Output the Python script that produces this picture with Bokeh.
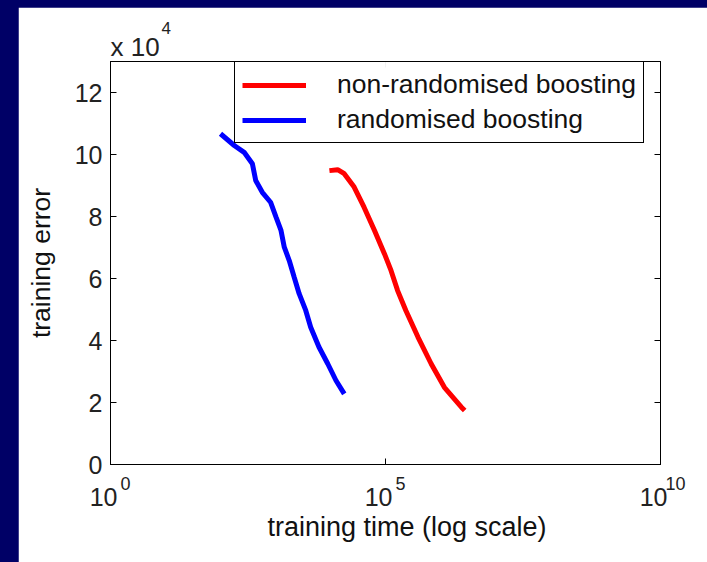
from bokeh.plotting import figure
from bokeh.models import (FixedTicker, LinearAxis, LogAxis, Legend, LegendItem,
                          Range1d, CustomJSTickFormatter, Title)
from bokeh.layouts import column
from bokeh.embed import file_html
from bokeh.resources import INLINE

# ---- data (error in units of 10^4) ----
rand_time = [100, 178, 269, 380, 437, 575, 813, 1023, 1259, 1445, 1778, 2188,
             2692, 3548, 4365, 6166, 8913, 12589, 17783]
rand_err = [10.67, 10.29, 10.07, 9.70, 9.16, 8.78, 8.46, 7.98, 7.55, 7.01, 6.58,
            6.04, 5.51, 4.97, 4.43, 3.79, 3.25, 2.71, 2.28]
nonrand_time = [9550, 13490, 17780, 26920, 40740, 63100, 95500, 125900, 166000,
                234400, 389000, 676000, 1175000, 2399000, 2754000]
nonrand_err = [9.48, 9.51, 9.38, 8.95, 8.30, 7.55, 6.80, 6.26, 5.61, 4.97, 4.11,
               3.25, 2.49, 1.85, 1.74]
x_ticks = [1, 1e5, 1e10]
x_tick_exp = ["0", "5", "10"]    # exponents of the x tick labels 10^k
y_ticks = [0, 2, 4, 6, 8, 10, 12]
series_names = ["non-randomised boosting", "randomised boosting"]

FONT = "Liberation Sans"
TXT = "#111111"
TICK_TXT = "#222222"
NB = "\u00a0"

def blank():
    return CustomJSTickFormatter(code="return '';")

p = figure(width=689, height=555, x_axis_type="log", output_backend="svg",
           toolbar_location=None, x_range=Range1d(1, 1e10), y_range=Range1d(0, 13),
           frame_width=550, frame_height=403, min_border_left=92, min_border_top=54,
           min_border_right=47, min_border_bottom=98, margin=(7, 0, 0, 18))
p.background_fill_color = "white"
p.border_fill_color = "white"
p.outline_line_color = "black"
p.grid.visible = False

# base "10" of each x tick label (nbsp pads shift it a little left)
xa = p.xaxis[0]
xa.ticker = FixedTicker(ticks=x_ticks)
xa.major_label_overrides = {t: "10" + NB * 2 for t in x_ticks}
xa.major_label_text_font = FONT
xa.major_label_text_font_size = "25px"
xa.major_label_text_color = TICK_TXT
xa.major_label_standoff = 18
xa.major_tick_in = 6
xa.major_tick_out = 0
xa.minor_tick_line_color = None
xa.axis_line_color = "black"
xa.major_tick_line_color = "black"
xa.axis_label = None

# superscript exponents, raised next to the base "10"
exp_axis = LogAxis(ticker=FixedTicker(ticks=x_ticks),
                   major_label_overrides={t: NB * 6 + e for t, e in zip(x_ticks, x_tick_exp)},
                   major_label_text_font=FONT, major_label_text_font_size="18px",
                   major_label_text_color=TICK_TXT, major_label_standoff=-46,
                   axis_line_color=None, major_tick_line_color=None,
                   minor_tick_line_color=None)
p.add_layout(exp_axis, "below")

ya = p.yaxis[0]
ya.ticker = FixedTicker(ticks=y_ticks)
ya.major_label_text_font = FONT
ya.major_label_text_font_size = "25px"
ya.major_label_text_color = TICK_TXT
ya.major_tick_in = 6
ya.major_tick_out = 0
ya.major_label_standoff = 8
ya.minor_tick_line_color = None
ya.axis_line_color = "black"
ya.major_tick_line_color = "black"
ya.axis_label = "training error"
ya.axis_label_text_font = FONT
ya.axis_label_text_font_size = "26.5px"
ya.axis_label_text_font_style = "normal"
ya.axis_label_text_color = TXT
ya.axis_label_standoff = 16

top = LogAxis(ticker=FixedTicker(ticks=x_ticks), formatter=blank(),
              major_tick_in=6, major_tick_out=0, minor_tick_line_color=None,
              major_label_standoff=0)
right = LinearAxis(ticker=FixedTicker(ticks=y_ticks), formatter=blank(),
                   major_tick_in=6, major_tick_out=0, minor_tick_line_color=None,
                   major_label_standoff=0)
p.add_layout(top, "above")
p.add_layout(right, "right")

p.add_layout(Title(text="training time (log scale)", align="left", offset=157,
                   text_font=FONT, text_font_size="27px", text_font_style="normal",
                   text_color=TXT, standoff=-8), "below")

# multiplier "x 10^4" as two stacked titles
p.add_layout(Title(text="x 10", align="left", offset=0, text_font=FONT,
                   text_font_size="26px", text_font_style="normal",
                   text_color=TICK_TXT, standoff=0), "above")
p.add_layout(Title(text="4", align="left", offset=51, text_font=FONT,
                   text_font_size="17px", text_font_style="normal",
                   text_color=TICK_TXT, standoff=-9), "above")

r_non = p.line(nonrand_time, nonrand_err, line_color="#ff0000", line_width=5)
r_rand = p.line(rand_time, rand_err, line_color="#0000ff", line_width=5)

legend = Legend(items=[LegendItem(label=series_names[0], renderers=[r_non]),
                       LegendItem(label=series_names[1], renderers=[r_rand])],
                location=(124, 321), border_line_color="black", border_line_width=1,
                border_line_alpha=1, background_fill_color="white",
                label_text_font=FONT, label_text_font_size="26.5px",
                label_text_color=TXT, glyph_width=64, glyph_height=28,
                label_height=28, label_standoff=31, padding=7, spacing=4, margin=0)
p.add_layout(legend, "center")

layout = column(p, styles={"background-color": "#000066"}, width=707, height=562)
open("out.html", "w").write(file_html(layout, INLINE))
